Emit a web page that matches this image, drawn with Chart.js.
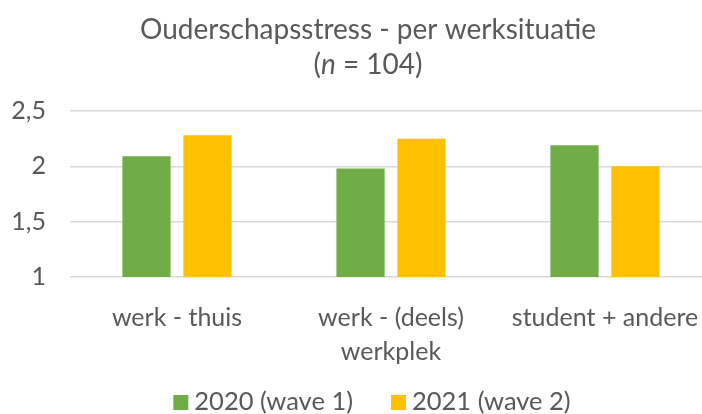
<!DOCTYPE html>
<html>
<head>
<meta charset="utf-8">
<script src="https://cdn.jsdelivr.net/npm/chart.js@4/dist/chart.umd.min.js"></script>
<style>
    html, body { margin: 0; padding: 0; background: #fff; overflow: hidden; }
    #wrap { width: 740px; height: 414px; }
</style>
</head>
<body>
<div id="wrap"><canvas id="mainChart" width="740" height="414"></canvas></div>
<script>
// Data
const categories = [['werk - thuis'], ['werk - (deels)', 'werkplek'], ['student + andere']];
const wave1 = [2.09, 1.98, 2.19];
const wave2 = [2.28, 2.25, 2.00];
const seriesNames = ['2020 (wave 1)', '2021 (wave 2)'];
const yTicks = [1, 1.5, 2, 2.5];
const titleLine = 'Ouderschapsstress - per werksituatie';

const TXT = '#595959';
const FONT = "'Lato', 'Noto Sans', sans-serif";

// title drawn by hand so the "n" can be italic
const titlePlugin = {
    id: 'twoLineTitle',
    afterDraw(chart) {
        const c = chart.ctx;
        const cx = chart.width / 2 - 2;
        c.save();
        c.fillStyle = TXT;
        c.textBaseline = 'middle';
        c.textAlign = 'center';
        c.font = `28px ${FONT}`;
        c.fillText(titleLine, cx, 30);

        // second line: (n = 104)
        const parts = [['(', 'normal'], ['n', 'italic'], [' = 104)', 'normal']];
        let total = 0;
        parts.forEach(p => { c.font = `${p[1]} 28px ${FONT}`; total += c.measureText(p[0]).width; });
        let x = cx - total / 2;
        c.textAlign = 'left';
        parts.forEach(p => {
            c.font = `${p[1]} 28px ${FONT}`;
            c.fillText(p[0], x, 65);
            x += c.measureText(p[0]).width;
        });
        c.restore();
    }
};

// bottom legend, laid out like the Excel one (small gap box->text)
const legendPlugin = {
    id: 'bottomLegend',
    afterDraw(chart) {
        const c = chart.ctx;
        const sets = chart.data.datasets;
        const box = 15, gap = 6, between = 38, y = 402;
        c.save();
        c.font = `25.5px ${FONT}`;
        c.textBaseline = 'middle';
        c.textAlign = 'left';
        const widths = sets.map(d => c.measureText(d.label).width);
        let total = widths.reduce((a, w) => a + box + gap + w, 0) + between * (sets.length - 1);
        let x = chart.width / 2 + 2 - total / 2;
        sets.forEach((d, i) => {
            c.fillStyle = d.backgroundColor;
            c.fillRect(x, y - 7, box, box);
            c.fillStyle = TXT;
            c.fillText(d.label, x + box + gap, y);
            x += box + gap + widths[i] + between;
        });
        c.restore();
    }
};

const ctx = document.getElementById('mainChart').getContext('2d');
new Chart(ctx, {
    type: 'bar',
    data: {
        labels: categories,
        datasets: [
            { label: seriesNames[0], data: wave1, backgroundColor: '#70AD47', categoryPercentage: 0.57, barPercentage: 0.79 },
            { label: seriesNames[1], data: wave2, backgroundColor: '#FFC000', categoryPercentage: 0.57, barPercentage: 0.79 }
        ]
    },
    options: {
        responsive: false,
        animation: false,
        layout: { padding: { top: 111, right: 28, left: 0, bottom: 0 } },
        scales: {
            y: {
                min: 1, max: 2.5,
                afterBuildTicks: s => { s.ticks = yTicks.map(v => ({ value: v })); },
                afterFit: s => { s.width = 70; },
                border: { display: false },
                grid: { color: '#d9d9d9', lineWidth: 1.5, drawTicks: false },
                ticks: {
                    color: TXT, padding: 24,
                    font: { family: FONT, size: 25 },
                    callback: v => String(v).replace('.', ',')
                }
            },
            x: {
                afterFit: s => { s.height = 137; },
                border: { display: false },
                grid: { display: false },
                ticks: { color: TXT, padding: 16, font: { family: FONT, size: 25, lineHeight: 1.35 } }
            }
        },
        plugins: {
            title: { display: false },
            legend: { display: false },
            tooltip: { enabled: false }
        }
    },
    plugins: [titlePlugin, legendPlugin]
});
</script>
</body>
</html>
